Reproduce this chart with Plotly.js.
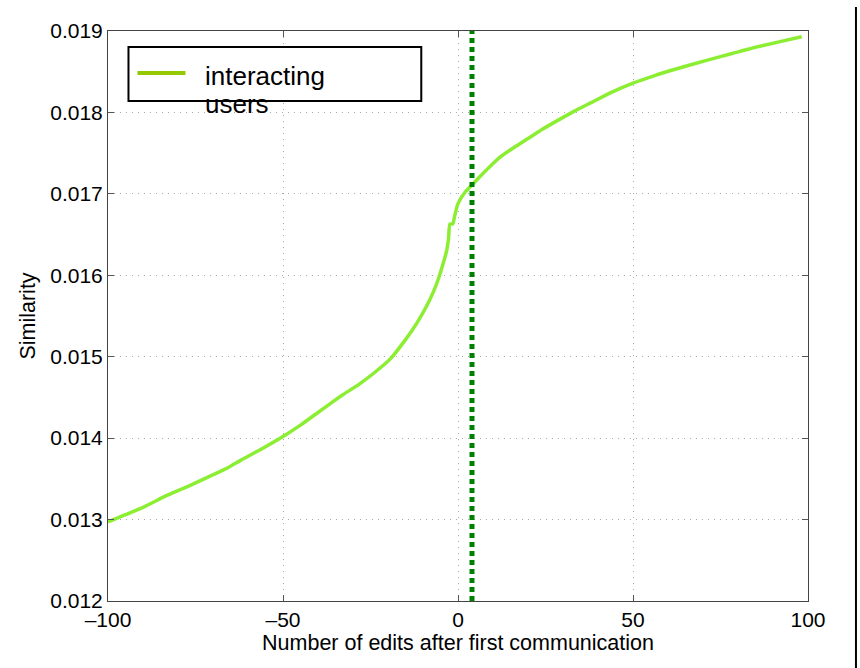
<!DOCTYPE html>
<html>
<head>
<meta charset="utf-8">
<script src="https://cdn.plot.ly/plotly-3.0.1.min.js"></script>
<style>html,body{margin:0;padding:0;background:#fff;}#chart{width:860px;height:668px;}</style>
</head>
<body>
<div id="chart"></div>
<script>
// Data
const editsX = [-100, -95, -90, -83, -76, -71, -66, -62, -56, -50, -45, -40.5, -36, -33, -28, -24, -19.4, -15, -11.8, -9, -7, -5.5, -4.2, -3.2, -2.7, -2.3, -1.5, -1, 0, 2, 4, 6, 9, 12, 16, 20, 24, 28, 33, 38, 44, 50, 56, 62, 71, 78, 85, 92, 98.2];
const similarity = [0.01297, 0.01306, 0.01315, 0.0133, 0.01343, 0.01353, 0.01363, 0.01373, 0.01387, 0.01402, 0.01416, 0.0143, 0.01444, 0.01453, 0.01467, 0.0148, 0.01497, 0.01521, 0.01541, 0.01562, 0.0158, 0.01597, 0.01615, 0.01631, 0.01645, 0.01663, 0.01663, 0.01672, 0.01688, 0.01702, 0.01711, 0.0172, 0.01733, 0.01745, 0.01757, 0.01768, 0.01779, 0.01789, 0.01801, 0.01812, 0.01825, 0.01836, 0.01845, 0.01853, 0.01864, 0.01872, 0.0188, 0.01887, 0.01893];
const seriesName = "interacting";
const seriesName2 = "users";
const markerX = 4;
const xTicks = [-100, -50, 0, 50, 100];
const xTickText = ["\u2013100", "\u201350", "0", "50", "100"];
const yTicks = [0.012, 0.013, 0.014, 0.015, 0.016, 0.017, 0.018, 0.019];
const yTickText = ["0.012", "0.013", "0.014", "0.015", "0.016", "0.017", "0.018", "0.019"];
const xTitle = "Number of edits after first communication";
const yTitle = "Similarity";

const font = "Liberation Sans, Arial, Helvetica, sans-serif";

const traces = [
  {
    x: editsX, y: similarity, type: "scatter", mode: "lines",
    line: {color: "rgb(140,238,50)", width: 3.5, shape: "spline", smoothing: 0.6},
    showlegend: false, hoverinfo: "skip"
  },
  {
    x: [markerX, markerX], y: [0.012, 0.019], type: "scatter", mode: "lines",
    line: {color: "rgb(0,128,0)", width: 5, dash: "5px,4px"},
    showlegend: false, hoverinfo: "skip"
  }
];

const axisCommon = {
  showline: true, linecolor: "#444", linewidth: 1, mirror: "ticks",
  ticks: "inside", ticklen: 6, tickcolor: "#555",
  showgrid: true, gridcolor: "#aaa", griddash: "1px,5px", gridwidth: 1,
  zeroline: false, tickfont: {family: font, size: 21, color: "#000"}
};

const layout = {
  width: 860, height: 668,
  margin: {l: 107.5, r: 52, t: 31, b: 67},
  paper_bgcolor: "#fff", plot_bgcolor: "#fff",
  font: {family: font, color: "#000"},
  xaxis: Object.assign({}, axisCommon, {
    range: [-100, 100], tickmode: "array", tickvals: xTicks, ticktext: xTickText,
    title: {text: xTitle, font: {family: font, size: 21.5}, standoff: 2}
  }),
  yaxis: Object.assign({}, axisCommon, {
    range: [0.012, 0.019], tickmode: "array", tickvals: yTicks, ticktext: yTickText,
    title: {text: yTitle, font: {family: font, size: 21.5}, standoff: 8}
  }),
  shapes: [
    {type: "rect", xref: "paper", yref: "paper",
     x0: (128 - 107.5) / 700.5, x1: (421 - 107.5) / 700.5,
     y0: (601 - 101) / 570, y1: (601 - 47) / 570,
     line: {color: "#000", width: 2}, fillcolor: "#fff", layer: "above"},
    {type: "line", xref: "paper", yref: "paper",
     x0: (137 - 107.5) / 700.5, x1: (185 - 107.5) / 700.5,
     y0: (601 - 73) / 570, y1: (601 - 73) / 570,
     line: {color: "rgb(150,200,0)", width: 4}, layer: "above"},
    {type: "line", xref: "paper", yref: "paper",
     x0: (856 - 107.5) / 700.5, x1: (856 - 107.5) / 700.5,
     y0: (601 - 7) / 570, y1: (601 - 668) / 570,
     line: {color: "#000", width: 2}}
  ],
  annotations: [
    {text: seriesName, xref: "paper", yref: "paper", x: (203 - 107.5) / 700.5, y: (601 - 76) / 570,
     xanchor: "left", yanchor: "middle", showarrow: false, font: {family: font, size: 26, color: "#000"}},
    {text: seriesName2, xref: "paper", yref: "paper", x: (203 - 107.5) / 700.5, y: (601 - 104) / 570,
     xanchor: "left", yanchor: "middle", showarrow: false, font: {family: font, size: 26, color: "#000"}}
  ]
};

Plotly.newPlot("chart", traces, layout, {staticPlot: true, displayModeBar: false});
</script>
</body>
</html>
